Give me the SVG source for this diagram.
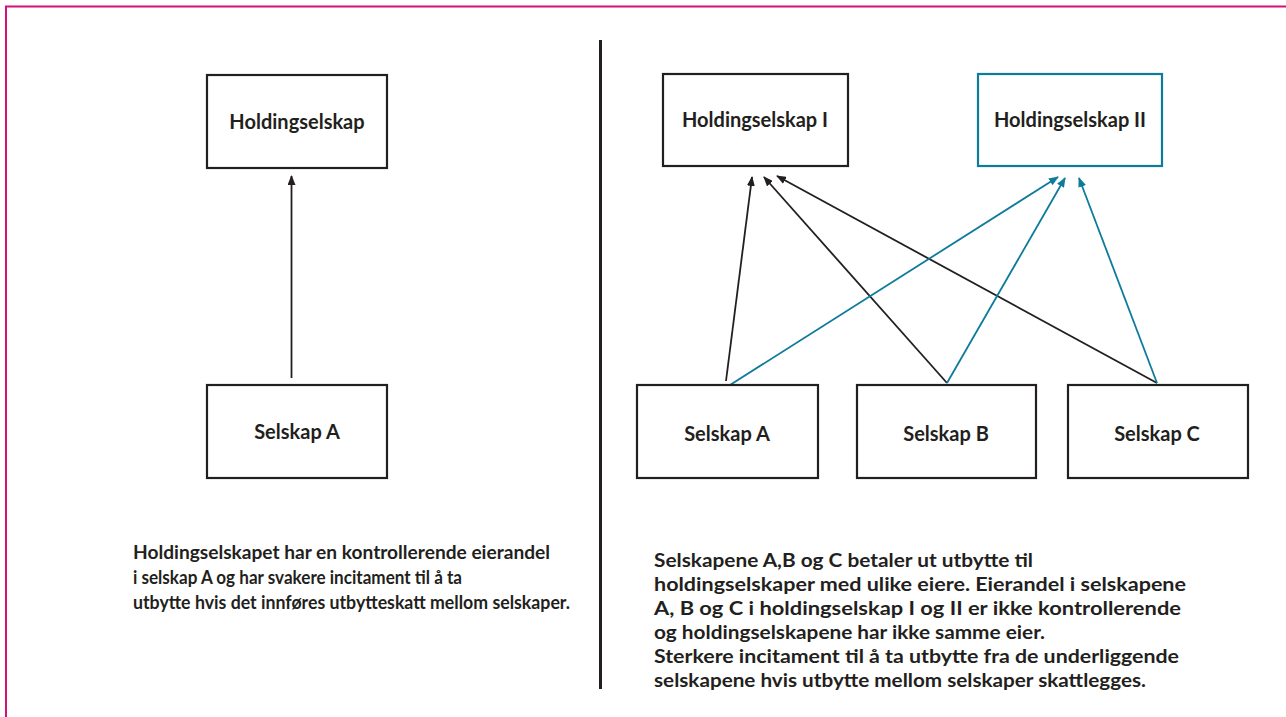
<svg xmlns="http://www.w3.org/2000/svg" width="1286" height="717" viewBox="0 0 1286 717">
<style>
.box{fill:#fff;stroke:#231f20;stroke-width:2.2}
.blue{stroke:#0e7b9b}
.lbl{font-family:"Lato","Liberation Sans",sans-serif;font-weight:700;font-size:20px;fill:#231f20;text-anchor:middle}
.para{font-family:"Lato","Liberation Sans",sans-serif;font-weight:700;font-size:19px;fill:#231f20}
.cb{stroke:#231f20;stroke-width:1.8;fill:none;marker-end:url(#ab)}
.cu{stroke:#0e7b9b;stroke-width:1.8;fill:none;marker-end:url(#au)}
</style>
<defs>
<marker id="ab" markerUnits="userSpaceOnUse" markerWidth="10" markerHeight="8" refX="9" refY="4" orient="auto"><path d="M0,0 L10,4 L0,8 z" fill="#231f20"/></marker>
<marker id="au" markerUnits="userSpaceOnUse" markerWidth="10" markerHeight="8" refX="9" refY="4" orient="auto"><path d="M0,0 L10,4 L0,8 z" fill="#0e7b9b"/></marker>
</defs>
<rect width="1286" height="717" fill="#fff"/>
<path d="M6,717 L6,6.5 L1286,6.5" fill="none" stroke="#d4117a" stroke-width="2"/>
<line x1="600.5" y1="40" x2="600.5" y2="689" stroke="#231f20" stroke-width="3"/>
<g id="connectors">
<line class="cb" x1="291.5" y1="378" x2="291.5" y2="176"/>
<line class="cb" x1="726" y1="381" x2="752" y2="177"/>
<line class="cb" x1="947" y1="383" x2="764" y2="177"/>
<line class="cb" x1="1157" y1="383" x2="777" y2="176"/>
<line class="cu" x1="730" y1="385" x2="1058" y2="177"/>
<line class="cu" x1="947" y1="383" x2="1065" y2="178"/>
<line class="cu" x1="1157" y1="383" x2="1079" y2="178"/>
</g>
<g id="holding-left"><rect class="box" x="207" y="75" width="180" height="93"/><text class="lbl" x="297" y="129">Holdingselskap</text></g>
<g id="selskap-a-left"><rect class="box" x="207" y="385" width="180" height="93"/><text class="lbl" x="297" y="439">Selskap A</text></g>
<g id="holding-1"><rect class="box" x="663" y="74" width="185" height="92"/><text class="lbl" x="755" y="127">Holdingselskap I</text></g>
<g id="holding-2"><rect class="box blue" x="978" y="74" width="184" height="92"/><text class="lbl" x="1070" y="127">Holdingselskap II</text></g>
<g id="selskap-a"><rect class="box" x="637" y="385" width="181" height="93"/><text class="lbl" x="727" y="441">Selskap A</text></g>
<g id="selskap-b"><rect class="box" x="857" y="385" width="179" height="93"/><text class="lbl" x="946" y="441">Selskap B</text></g>
<g id="selskap-c"><rect class="box" x="1068" y="385" width="180" height="93"/><text class="lbl" x="1157" y="441">Selskap C</text></g>
<g id="text-left">
<text class="para" x="133" y="559" textLength="417" lengthAdjust="spacingAndGlyphs">Holdingselskapet har en kontrollerende eierandel</text>
<text class="para" x="133" y="584" textLength="329" lengthAdjust="spacingAndGlyphs">i selskap A og har svakere incitament til å ta</text>
<text class="para" x="133" y="609" textLength="437" lengthAdjust="spacingAndGlyphs">utbytte hvis det innføres utbytteskatt mellom selskaper.</text>
</g>
<g id="text-right">
<text class="para" x="654" y="567" textLength="379" lengthAdjust="spacingAndGlyphs">Selskapene A,B og C betaler ut utbytte til</text>
<text class="para" x="654" y="591" textLength="532" lengthAdjust="spacingAndGlyphs">holdingselskaper med ulike eiere. Eierandel i selskapene</text>
<text class="para" x="654" y="615" textLength="527" lengthAdjust="spacingAndGlyphs">A, B og C i holdingselskap I og II er ikke kontrollerende</text>
<text class="para" x="654" y="639" textLength="391" lengthAdjust="spacingAndGlyphs">og holdingselskapene har ikke samme eier.</text>
<text class="para" x="654" y="663" textLength="525" lengthAdjust="spacingAndGlyphs">Sterkere incitament til å ta utbytte fra de underliggende</text>
<text class="para" x="654" y="687" textLength="492" lengthAdjust="spacingAndGlyphs">selskapene hvis utbytte mellom selskaper skattlegges.</text>
</g>
</svg>
